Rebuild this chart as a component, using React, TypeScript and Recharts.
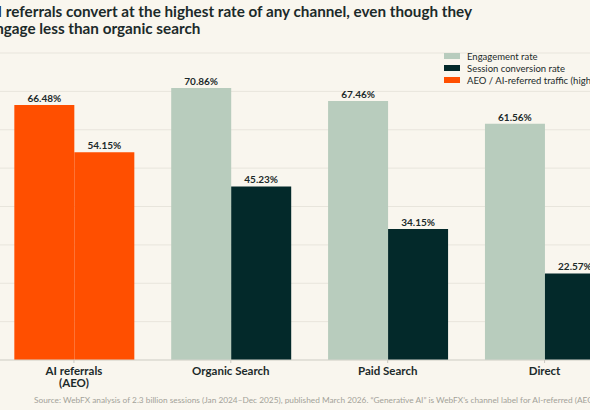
import { Bar, BarChart, CartesianGrid, Cell, LabelList, XAxis, YAxis } from "recharts"

const channels = ["AI referrals\n(AEO)", "Organic Search", "Paid Search", "Direct"]
const engagementRate = [66.48, 70.86, 67.46, 61.56]
const conversionRate = [54.15, 45.23, 34.15, 22.57]
const yTicks = [0, 10, 20, 30, 40, 50, 60, 70, 80]
const legendLabels = ["Engagement rate", "Session conversion rate", "AEO / AI-referred traffic (highlighted)"]
const titleLines = [
  "AI referrals convert at the highest rate of any channel, even though they",
  "engage less than organic search"
]
const source =
  "Source: WebFX analysis of 2.3 billion sessions (Jan 2024–Dec 2025), published March 2026. “Generative AI” is WebFX’s channel label for AI-referred (AEO) traffic."

const data = channels.map((name, i) => ({
  name,
  engagement: engagementRate[i],
  conversion: conversionRate[i]
}))

const colors = {
  bg: "#f9f6ee",
  sage: "#b8ccbd",
  dark: "#03292a",
  orange: "#ff4f00",
  grid: "#e8e5dc",
  text: "#1c2a2a"
}
const legendColors = [colors.sage, colors.dark, colors.orange]
const font = "Lato, sans-serif"

function CategoryTick({ x, y, payload }: any) {
  const lines = String(payload.value).split("\n")
  return (
    <text x={x} y={y + 10} textAnchor="middle" fontFamily={font} fontSize={11.5} fontWeight={700} fill={colors.text}>
      {lines.map((line, i) => (
        <tspan key={line} x={x} dy={i === 0 ? 0 : 12}>
          {line}
        </tspan>
      ))}
    </text>
  )
}

const pct = (v: any) => `${Number(v).toFixed(2)}%`
const labelStyle = { fontFamily: font, fontSize: 10, fontWeight: 700, fill: colors.text }

export default function App() {
  return (
    <div
      style={{
        position: "fixed",
        left: 0,
        top: 0,
        width: 590,
        height: 410,
        overflow: "hidden",
        background: colors.bg
      }}
    >
      <div style={{ position: "absolute", left: -20, top: 0 }}>
        <BarChart
          width={660}
          height={410}
          data={data}
          margin={{ top: 53, right: 17, bottom: 0, left: 15.5 }}
          barCategoryGap="12%"
          barGap={0}
        >
          <CartesianGrid horizontal vertical={false} stroke={colors.grid} />
          <XAxis
            dataKey="name"
            height={50}
            interval={0}
            tick={<CategoryTick />}
            tickSize={3}
            tickLine={{ stroke: "#c9c8c0" }}
            axisLine={{ stroke: "#d5d4cc" }}
          />
          <YAxis hide width={0} domain={[0, 80]} ticks={yTicks} />
          <Bar dataKey="engagement" fill={colors.sage} isAnimationActive={false}>
            {data.map((d, i) => (
              <Cell key={d.name} fill={i === 0 ? colors.orange : colors.sage} />
            ))}
            <LabelList dataKey="engagement" position="top" offset={3} formatter={pct} style={labelStyle} />
          </Bar>
          <Bar dataKey="conversion" fill={colors.dark} isAnimationActive={false}>
            {data.map((d, i) => (
              <Cell key={d.name} fill={i === 0 ? colors.orange : colors.dark} />
            ))}
            <LabelList dataKey="conversion" position="top" offset={3} formatter={pct} style={labelStyle} />
          </Bar>
        </BarChart>
      </div>
      <div
        style={{
          position: "absolute",
          left: 444,
          top: 50,
          fontFamily: font,
          fontSize: 9.5,
          color: colors.text,
          whiteSpace: "nowrap"
        }}
      >
        {legendLabels.map((label, i) => (
          <div key={label} style={{ display: "flex", alignItems: "center", height: 12 }}>
            <span style={{ width: 16, height: 6, marginRight: 7, background: legendColors[i] }} />
            {label}
          </div>
        ))}
      </div>
      <div
        style={{
          position: "absolute",
          left: -13,
          top: 3,
          fontFamily: font,
          fontSize: 15.25,
          fontWeight: 700,
          lineHeight: "17px",
          color: colors.text,
          whiteSpace: "nowrap"
        }}
      >
        {titleLines.map((line) => (
          <div key={line}>{line}</div>
        ))}
      </div>
      <div
        style={{
          position: "absolute",
          left: 34,
          top: 395,
          fontFamily: font,
          fontSize: 8.3,
          color: "#a3a299",
          whiteSpace: "nowrap"
        }}
      >
        {source}
      </div>
    </div>
  )
}
